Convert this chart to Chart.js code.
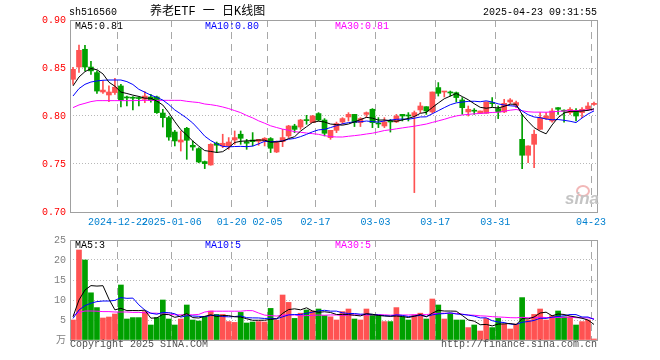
<!DOCTYPE html>
<html><head><meta charset="utf-8">
<script src="https://cdn.jsdelivr.net/npm/chart.js@4.4.1/dist/chart.umd.min.js"></script>
<style>
html,body{margin:0;padding:0;background:#fff;width:660px;height:360px;overflow:hidden;}
#wrap{position:relative;width:660px;height:360px;}
canvas{position:absolute;left:0;}
.t{position:absolute;font-family:"Liberation Mono","DejaVu Sans Mono","Noto Sans CJK SC",monospace;font-size:10px;line-height:10px;white-space:pre;}
</style></head>
<body><div id="wrap">
<canvas id="main" width="660" height="230" style="top:0;width:660px;height:230px"></canvas>
<canvas id="vol" width="660" height="130" style="top:230px;width:660px;height:130px"></canvas>
<div class="t" style="left:69px;top:8px;color:#000">sh516560</div>
<div class="t" style="left:150px;top:6px;font-size:12px;line-height:12px;color:#000;font-family:'Liberation Mono','Noto Sans CJK SC',monospace">养老ETF 一 日K线图</div>
<div class="t" style="right:63px;top:8px;color:#000">2025-04-23 09:31:55</div>
<div class="t" style="left:75px;top:22px;color:#000">MA5:0.81</div>
<div class="t" style="left:205px;top:22px;color:#0000ff">MA10:0.80</div>
<div class="t" style="left:335px;top:22px;color:#ff00ff">MA30:0.81</div>
<div class="t" style="left:75px;top:241px;color:#000">MA5:3</div>
<div class="t" style="left:205px;top:241px;color:#0000ff">MA10:5</div>
<div class="t" style="left:335px;top:241px;color:#ff00ff">MA30:5</div>
<div class="t" style="left:70px;top:340px;color:#505050">Copyright 2025 SINA.COM</div>
<div class="t" style="right:63px;top:340px;color:#505050">http://finance.sina.com.cn</div>
<div style="position:absolute;left:576px;top:185px;width:10px;height:8px;border:2px solid #f2b8b8;border-radius:50%"></div>
<div style="position:absolute;left:565px;top:190px;font:italic bold 17px 'Liberation Sans',sans-serif;color:#c4c4c4;line-height:17px">sina</div>
</div>
<script>
const dates = ['2024-12-11','2024-12-12','2024-12-13','2024-12-16','2024-12-17','2024-12-18','2024-12-19','2024-12-20',
'2024-12-23','2024-12-24','2024-12-25','2024-12-26','2024-12-27','2024-12-30','2024-12-31',
'2025-01-02','2025-01-03','2025-01-06','2025-01-07','2025-01-08','2025-01-09','2025-01-10',
'2025-01-13','2025-01-14','2025-01-15','2025-01-16','2025-01-17',
'2025-01-20','2025-01-21','2025-01-22','2025-01-23','2025-01-24','2025-01-27',
'2025-02-05','2025-02-06','2025-02-07','2025-02-10','2025-02-11','2025-02-12','2025-02-13','2025-02-14',
'2025-02-17','2025-02-18','2025-02-19','2025-02-20','2025-02-21','2025-02-24','2025-02-25','2025-02-26','2025-02-27','2025-02-28',
'2025-03-03','2025-03-04','2025-03-05','2025-03-06','2025-03-07','2025-03-10','2025-03-11','2025-03-12','2025-03-13','2025-03-14',
'2025-03-17','2025-03-18','2025-03-19','2025-03-20','2025-03-21','2025-03-24','2025-03-25','2025-03-26','2025-03-27','2025-03-28',
'2025-03-31','2025-04-01','2025-04-02','2025-04-03','2025-04-07','2025-04-08','2025-04-09','2025-04-10','2025-04-11',
'2025-04-14','2025-04-15','2025-04-16','2025-04-17','2025-04-18','2025-04-21','2025-04-22','2025-04-23'];

const opens = [0.8382,0.851,0.8695,0.851,0.8452,0.825,0.8219,0.8244,0.8313,0.8192,
0.8192,0.819,0.8174,0.8198,0.8198,0.8031,0.7983,0.7833,0.7729,0.7872,
0.7695,0.766,0.7525,0.749,0.7716,0.7688,0.7688,0.775,0.781,0.7733,
0.775,0.7736,0.774,0.7765,0.7625,0.7733,0.7792,0.7896,0.7885,0.7958,
0.7931,0.8025,0.7958,0.7775,0.7851,0.7937,0.799,0.8017,0.7931,0.8017,
0.807,0.7923,0.7896,0.7945,0.7938,0.8017,0.8007,0.800,0.8063,0.8097,
0.8042,0.8296,0.825,0.8247,0.8243,0.8167,0.8042,0.8056,0.8028,0.8028,
0.8136,0.8077,0.8042,0.8146,0.8111,0.7757,0.7591,0.7705,0.7861,0.7973,
0.7948,0.8087,0.8056,0.8035,0.8052,0.8035,0.807,0.812];
const highs = [0.8507,0.874,0.8736,0.857,0.847,0.8365,0.8313,0.8393,0.833,0.8208,
0.8203,0.820,0.8254,0.8226,0.8208,0.807,0.7997,0.785,0.7844,0.7882,
0.774,0.767,0.7531,0.7712,0.7729,0.781,0.7775,0.7844,0.7844,0.7757,
0.7827,0.7757,0.7775,0.7775,0.774,0.7861,0.7903,0.7914,0.7965,0.8007,
0.8007,0.8035,0.7973,0.7851,0.7937,0.7983,0.8035,0.8017,0.7983,0.8042,
0.8077,0.7983,0.7983,0.7965,0.8017,0.8017,0.8035,0.8052,0.814,0.8097,
0.825,0.8348,0.8257,0.826,0.825,0.8192,0.8104,0.8077,0.8052,0.8146,
0.8192,0.8104,0.8174,0.8181,0.8156,0.8017,0.7688,0.7854,0.8035,0.8035,
0.8077,0.8087,0.8063,0.8087,0.8077,0.8087,0.814,0.8146];
const lows = [0.833,0.8455,0.847,0.8434,0.8236,0.8236,0.815,0.8226,0.8094,0.8104,
0.8063,0.8104,0.814,0.8143,0.8028,0.7885,0.7747,0.7688,0.7635,0.7549,
0.7643,0.7513,0.7452,0.7487,0.7619,0.767,0.7653,0.7705,0.7705,0.7653,
0.7688,0.7695,0.7688,0.7619,0.7619,0.7681,0.7775,0.7827,0.7861,0.7914,
0.7931,0.7948,0.7792,0.7757,0.7827,0.7914,0.7948,0.789,0.789,0.7983,
0.7879,0.7879,0.7879,0.7833,0.7931,0.7948,0.7948,0.7202,0.8035,0.8017,
0.8028,0.8208,0.8198,0.8208,0.8146,0.8018,0.800,0.8017,0.8028,0.8028,
0.8098,0.7973,0.8035,0.8132,0.8087,0.7452,0.7514,0.7462,0.7861,0.7965,
0.7937,0.8017,0.7937,0.8017,0.7948,0.7983,0.8063,0.8111];
const closes = [0.8486,0.8684,0.851,0.847,0.826,0.827,0.825,0.830,0.8164,0.8188,
0.8185,0.8182,0.8208,0.8164,0.8035,0.7983,0.7781,0.774,0.775,0.7747,
0.7677,0.7521,0.7504,0.7705,0.7695,0.7716,0.7729,0.7775,0.7768,0.7716,
0.7733,0.7757,0.7768,0.7664,0.7723,0.7775,0.7896,0.7861,0.7958,0.7952,
0.800,0.7958,0.782,0.7851,0.7921,0.7973,0.8017,0.7931,0.7973,0.8035,
0.7931,0.7917,0.7938,0.7938,0.800,0.800,0.800,0.8035,0.8104,0.8052,
0.825,0.8236,0.8257,0.824,0.8192,0.8087,0.807,0.805,0.8052,0.8146,
0.8129,0.8042,0.8132,0.8167,0.814,0.7591,0.7688,0.781,0.7983,0.800,
0.8052,0.807,0.805,0.807,0.800,0.807,0.8104,0.8132];
const volumes = [5.0,22.5,20,11.8,8.1,5.5,5.75,6.5,13.75,5.25,
5.6,5.6,7.1,3.75,5.6,10,5.25,3.75,5.25,8.75,
5.0,4.75,5.8,7.25,6.4,6.4,4.6,4.4,6.9,4.25,
4.5,4.6,4.5,7.9,5.0,11.25,9.4,5.4,6.7,7.5,
7.25,7.75,6.1,5.8,5.0,7.1,7.75,5.25,5.0,7.75,
6.4,6.25,4.6,4.6,8.1,5.8,5.0,6.25,6.7,5.25,
10.25,8.75,5.25,6.7,5.0,5.0,3.1,3.75,2.25,5.4,
3.1,5.4,4.0,2.75,4.0,10.6,5.0,6.4,7.75,5.0,
6.1,7.25,5.8,5.8,3.75,4.6,5.0,0.25];

// moving-average values before the window is full
const ma5Lead = [0.8313,0.8406,0.8462,0.8494];
const ma10Lead = [0.8208,0.8285,0.833,0.8354,0.8365,0.8372,0.8375,0.8375,0.8375];
const ma30Lead = [0.8087,0.8115,0.8132,0.815,0.816,0.816,0.816,0.816,0.816,0.816,
0.816,0.8162,0.8163,0.8163,0.8163,0.8163,0.8163,0.8163,0.8163,0.8153,
0.8146,0.814,0.8125,0.8118,0.8108,0.8094,0.8077,0.8056,0.8035];
const vma5Lead = [5.8,10,12.5,13.6];
const vma10Lead = [5.4,7.5,8.6,9.2,9.6,9.75,9.75,9.9,10.6];
const vma30Lead = [6.1,6.9,7.25,7.25,7.2,7.1,7.1,7.0,7.0,7.0,
6.9,6.9,6.8,6.7,6.7,6.5,6.5,6.3,6.3,6.3,
6.3,6.4,7.0,7.2,7.2,7.2,7.2,7.2,7.2];

const xTickIndex = [8,17,27,33,41,51,61,71,87];
const xTickText = ['2024-12-22','2025-01-06','01-20','02-05','02-17','03-03','03-17','03-31','04-23'];

const UP = '#ff5252', DOWN = '#00a000';
const FONT = "'Liberation Mono','DejaVu Sans Mono','Noto Sans CJK SC',monospace";

function movingAverage(vals, n, lead){
  return vals.map((v,i)=>{
    if(i < n-1) return lead[i];
    let s=0; for(let k=i-n+1;k<=i;k++) s+=vals[k];
    return s/n;
  });
}
const colors = closes.map((c,i)=> c > opens[i] ? UP : DOWN);
const bodies = opens.map((o,i)=>[o, closes[i]]);
const wicks = lows.map((l,i)=>[l, highs[i]]);

const frame = {
  id:'frame',
  afterDraw(chart){
    const a = chart.chartArea, c = chart.ctx;
    c.save(); c.strokeStyle='#a0a0a0'; c.lineWidth=1;
    c.strokeRect(a.left+0.5, a.top+0.5, a.right-a.left, a.bottom-a.top);
    c.restore();
  }
};

function lineDs(data, color){
  return {type:'line', data, borderColor:color, borderWidth:1, pointRadius:0, tension:0, order:0, fill:false};
}
const xGridColor = ctx => xTickIndex.includes(ctx.index) ? '#a8a8a8' : 'rgba(0,0,0,0)';
const yGridColor = ctx => (ctx.index===0 || ctx.index===ctx.scale.ticks.length-1) ? 'rgba(0,0,0,0)' : '#b8b8b8';

new Chart(document.getElementById('main'), {
  type:'bar',
  data:{
    labels: dates,
    datasets:[
      lineDs(movingAverage(closes,5,ma5Lead), '#000000'),
      lineDs(movingAverage(closes,10,ma10Lead), '#0000ff'),
      lineDs(movingAverage(closes,30,ma30Lead), '#ff00ff'),
      {type:'bar', data:bodies, backgroundColor:colors, barThickness:5, grouped:false, minBarLength:1, order:1},
      {type:'bar', data:wicks, backgroundColor:colors, barThickness:1, grouped:false, order:2}
    ]
  },
  options:{
    responsive:false, animation:false, devicePixelRatio:1,
    layout:{padding:{left:0,right:63,top:20,bottom:0}},
    plugins:{legend:{display:false}, tooltip:{enabled:false}},
    scales:{
      x:{
        offset:true,
        grid:{offset:true, color:xGridColor, drawTicks:false, lineWidth:1},
        border:{display:false, dash:[7,5]},
        ticks:{autoSkip:false, maxRotation:0, minRotation:0, color:'#0080d0', padding:4, labelOffset:-3,
          font:{family:FONT, size:10},
          callback:(v,i)=>{ const k = xTickIndex.indexOf(i); return k>=0 ? xTickText[k] : ''; }},
        afterFit(s){ s.height = 18; }
      },
      y:{
        min:0.70, max:0.90,
        ticks:{stepSize:0.05, color:'#ff0000', padding:4, font:{family:FONT, size:10}, callback:v=>Number(v).toFixed(2)},
        grid:{color:yGridColor, drawTicks:false},
        border:{display:false, dash:[1,2]},
        afterFit(s){ s.width = 70; }
      }
    }
  },
  plugins:[frame]
});

new Chart(document.getElementById('vol'), {
  type:'bar',
  data:{
    labels: dates,
    datasets:[
      lineDs(movingAverage(volumes,5,vma5Lead), '#000000'),
      lineDs(movingAverage(volumes,10,vma10Lead), '#0000ff'),
      lineDs(movingAverage(volumes,30,vma30Lead), '#ff00ff'),
      {type:'bar', data:volumes, backgroundColor:colors, barThickness:5, grouped:false, order:1}
    ]
  },
  options:{
    responsive:false, animation:false, devicePixelRatio:1,
    layout:{padding:{left:0,right:63,top:10,bottom:20}},
    plugins:{legend:{display:false}, tooltip:{enabled:false}},
    scales:{
      x:{
        offset:true,
        grid:{offset:true, color:xGridColor, drawTicks:false, lineWidth:1},
        border:{display:false, dash:[7,5]},
        ticks:{display:false, autoSkip:false, maxRotation:0, minRotation:0},
        afterFit(s){ s.height = 0; }
      },
      y:{
        min:0, max:25,
        ticks:{stepSize:5, color:'#808080', padding:4, font:{family:FONT, size:10}, callback:v=> v===0 ? '万' : String(v)},
        grid:{color:yGridColor, drawTicks:false},
        border:{display:false, dash:[1,2]},
        afterFit(s){ s.width = 70; }
      }
    }
  },
  plugins:[frame]
});
</script>
</body></html>
